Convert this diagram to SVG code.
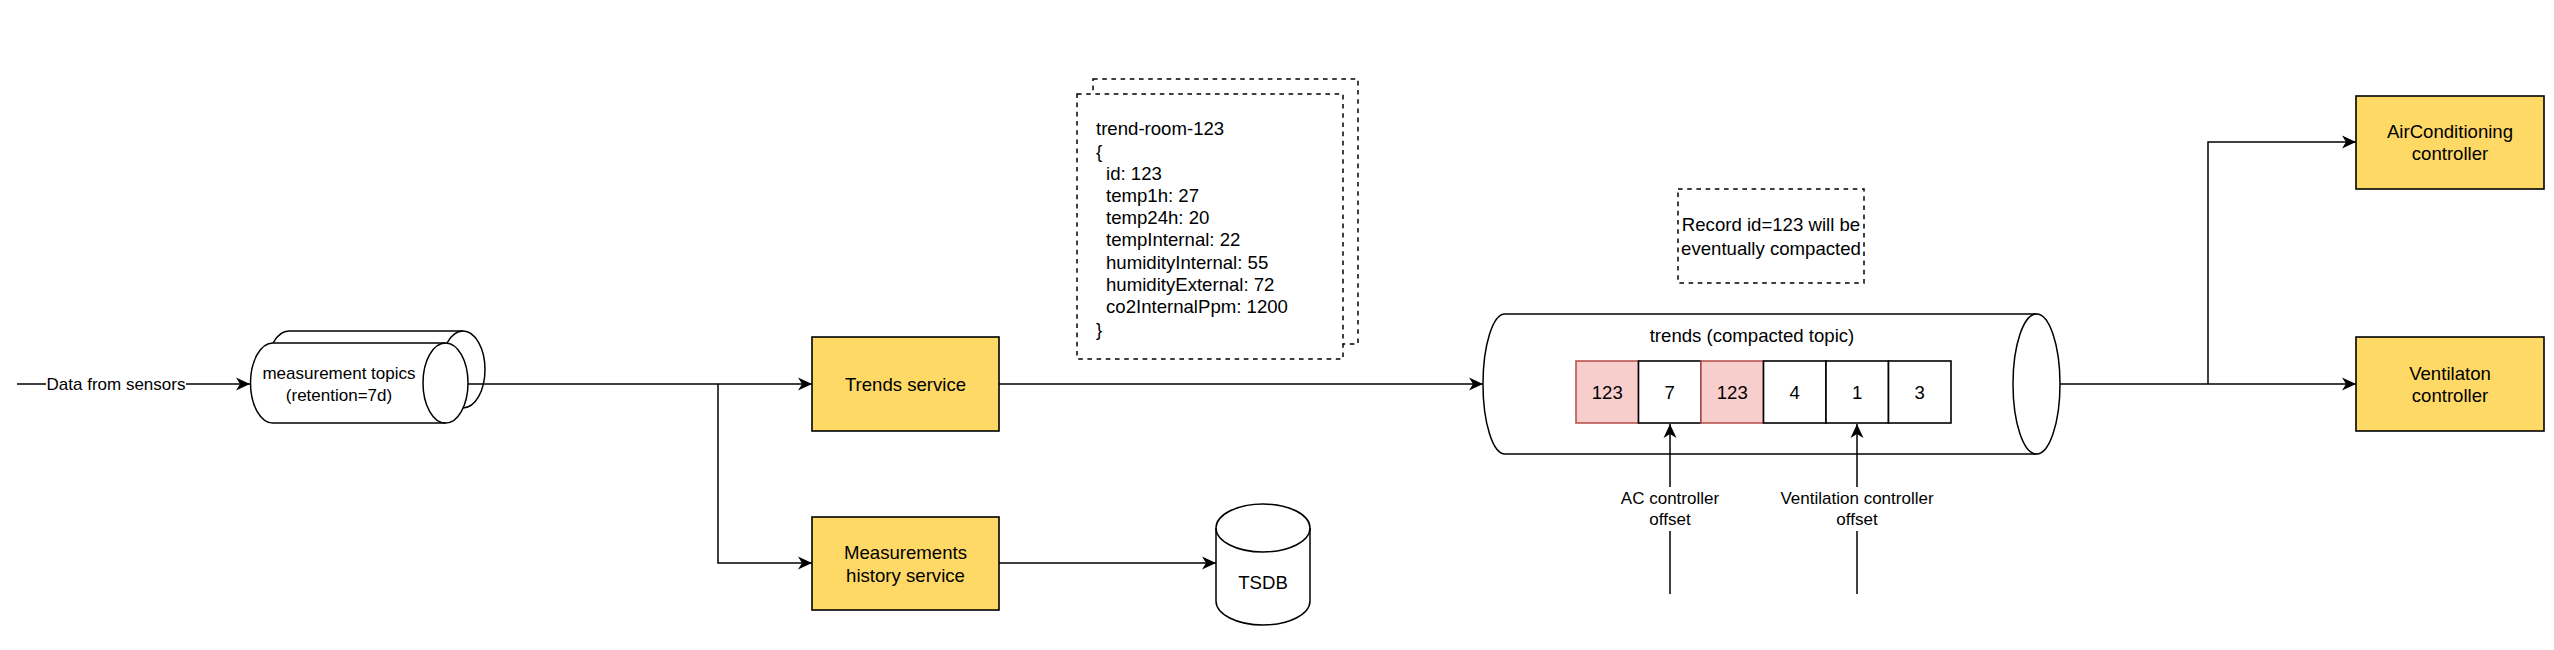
<svg xmlns="http://www.w3.org/2000/svg" width="2554" height="650" viewBox="0 0 2554 650">
<style>
text{font-family:"Liberation Sans",Arial,Helvetica,sans-serif;fill:#000;dominant-baseline:central;text-anchor:middle}
.t186{font-size:18.6px}
.t17{font-size:17px}
.box{fill:#FFD966;stroke:#000;stroke-width:1.6}
.shape{fill:#fff;stroke:#000;stroke-width:1.5}
.dash{fill:#fff;stroke:#000;stroke-width:1.5;stroke-dasharray:4.6 4.6}
.cell{fill:#fff;stroke:#000;stroke-width:1.6}
.red{fill:#f8cecc;stroke:#b85450;stroke-width:1.6}
.edge{fill:none;stroke:#000;stroke-width:1.5}
.lbg{fill:#fff;stroke:none}
.left{text-anchor:start}
</style>
<defs>
<marker id="arr" markerUnits="userSpaceOnUse" markerWidth="16" markerHeight="14" viewBox="-15 -7 16 14" refX="0" refY="0" orient="auto">
<path d="M0,0 L-14,-6.5 L-10,0 L-14,6.5 Z" fill="#000"/>
</marker>
</defs>
<rect width="2554" height="650" fill="#fff"/>

<g id="measurement-topics">
<path class="shape" d="M289,331 H463 A22,38.5 0 0 1 463,408 H289 A22,38.5 0 0 1 289,331 Z"/>
<path class="edge" d="M463,331 A22,38.5 0 0 0 463,408"/>
<path class="shape" d="M273,343 H445.5 A22.5,40 0 0 1 445.5,423 H273 A22.5,40 0 0 1 273,343 Z"/>
<path class="edge" d="M445.5,343 A22.5,40 0 0 0 445.5,423"/>
<text class="t17" x="339" y="373">measurement topics</text>
<text class="t17" x="339" y="395">(retention=7d)</text>
</g>

<g id="trends-service">
<rect class="box" x="812" y="337" width="187" height="94"/>
<text class="t186" x="905.5" y="384">Trends service</text>
</g>

<g id="measurements-history-service">
<rect class="box" x="812" y="517" width="187" height="93"/>
<text class="t186" x="905.5" y="552">Measurements</text>
<text class="t186" x="905.5" y="575">history service</text>
</g>

<g id="tsdb">
<path class="shape" d="M1216,528 A47,24 0 0 1 1310,528 V601 A47,24 0 0 1 1216,601 Z"/>
<path class="edge" d="M1216,528 A47,24 0 0 0 1310,528"/>
<text class="t186" x="1263" y="582">TSDB</text>
</g>

<g id="trend-record-doc">
<rect class="dash" x="1093" y="79" width="265" height="265"/>
<rect class="dash" x="1077" y="94" width="266" height="265"/>
<text class="t186 left" x="1096" y="128">trend-room-123</text>
<text class="t186 left" x="1096" y="151">{</text>
<text class="t186 left" x="1106" y="173">id: 123</text>
<text class="t186 left" x="1106" y="195">temp1h: 27</text>
<text class="t186 left" x="1106" y="217">temp24h: 20</text>
<text class="t186 left" x="1106" y="239">tempInternal: 22</text>
<text class="t186 left" x="1106" y="262">humidityInternal: 55</text>
<text class="t186 left" x="1106" y="284">humidityExternal: 72</text>
<text class="t186 left" x="1106" y="306">co2InternalPpm: 1200</text>
<text class="t186 left" x="1096" y="329">}</text>
</g>

<g id="compaction-note">
<rect class="dash" x="1678" y="189" width="186" height="94"/>
<text class="t186" x="1771" y="224">Record id=123 will be</text>
<text class="t186" x="1771" y="248">eventually compacted</text>
</g>

<g id="trends-topic">
<path class="shape" d="M1505,314 H2036.5 A23.5,70 0 0 1 2036.5,454 H1505 A22,70 0 0 1 1505,314 Z"/>
<path class="edge" d="M2036.5,314 A23.5,70 0 0 0 2036.5,454"/>
<text class="t186" x="1752" y="335">trends (compacted topic)</text>
<rect class="red" x="1576" y="361" width="62.5" height="62"/>
<rect class="cell" x="1638.5" y="361" width="62.5" height="62"/>
<rect class="red" x="1701" y="361" width="62.5" height="62"/>
<rect class="cell" x="1763.5" y="361" width="62.5" height="62"/>
<rect class="cell" x="1826" y="361" width="62.5" height="62"/>
<rect class="cell" x="1888.5" y="361" width="62.5" height="62"/>
<text class="t186" x="1607.25" y="392">123</text>
<text class="t186" x="1669.75" y="392">7</text>
<text class="t186" x="1732.25" y="392">123</text>
<text class="t186" x="1794.75" y="392">4</text>
<text class="t186" x="1857.25" y="392">1</text>
<text class="t186" x="1919.75" y="392">3</text>
</g>

<g id="airconditioning-controller">
<rect class="box" x="2356" y="96" width="188" height="93"/>
<text class="t186" x="2450" y="131">AirConditioning</text>
<text class="t186" x="2450" y="153">controller</text>
</g>

<g id="ventilaton-controller">
<rect class="box" x="2356" y="337" width="188" height="94"/>
<text class="t186" x="2450" y="373">Ventilaton</text>
<text class="t186" x="2450" y="395">controller</text>
</g>

<g id="connectors">
<path class="edge" d="M17,384 H250" marker-end="url(#arr)"/>
<path class="edge" d="M468,384 H812" marker-end="url(#arr)"/>
<path class="edge" d="M718,384 V563 H812" marker-end="url(#arr)"/>
<path class="edge" d="M999,384 H1483" marker-end="url(#arr)"/>
<path class="edge" d="M999,563 H1216" marker-end="url(#arr)"/>
<path class="edge" d="M2060,384 H2356" marker-end="url(#arr)"/>
<path class="edge" d="M2208,384 V142 H2356" marker-end="url(#arr)"/>
<path class="edge" d="M1670,594 V424" marker-end="url(#arr)"/>
<path class="edge" d="M1857,594 V424" marker-end="url(#arr)"/>
<rect class="lbg" x="46" y="374" width="140" height="20"/>
<text class="t17" x="116" y="384">Data from sensors</text>
<rect class="lbg" x="1618" y="487" width="104" height="44"/>
<text class="t17" x="1670" y="498">AC controller</text>
<text class="t17" x="1670" y="519">offset</text>
<rect class="lbg" x="1779" y="487" width="156" height="44"/>
<text class="t17" x="1857" y="498">Ventilation controller</text>
<text class="t17" x="1857" y="519">offset</text>
</g>
</svg>
